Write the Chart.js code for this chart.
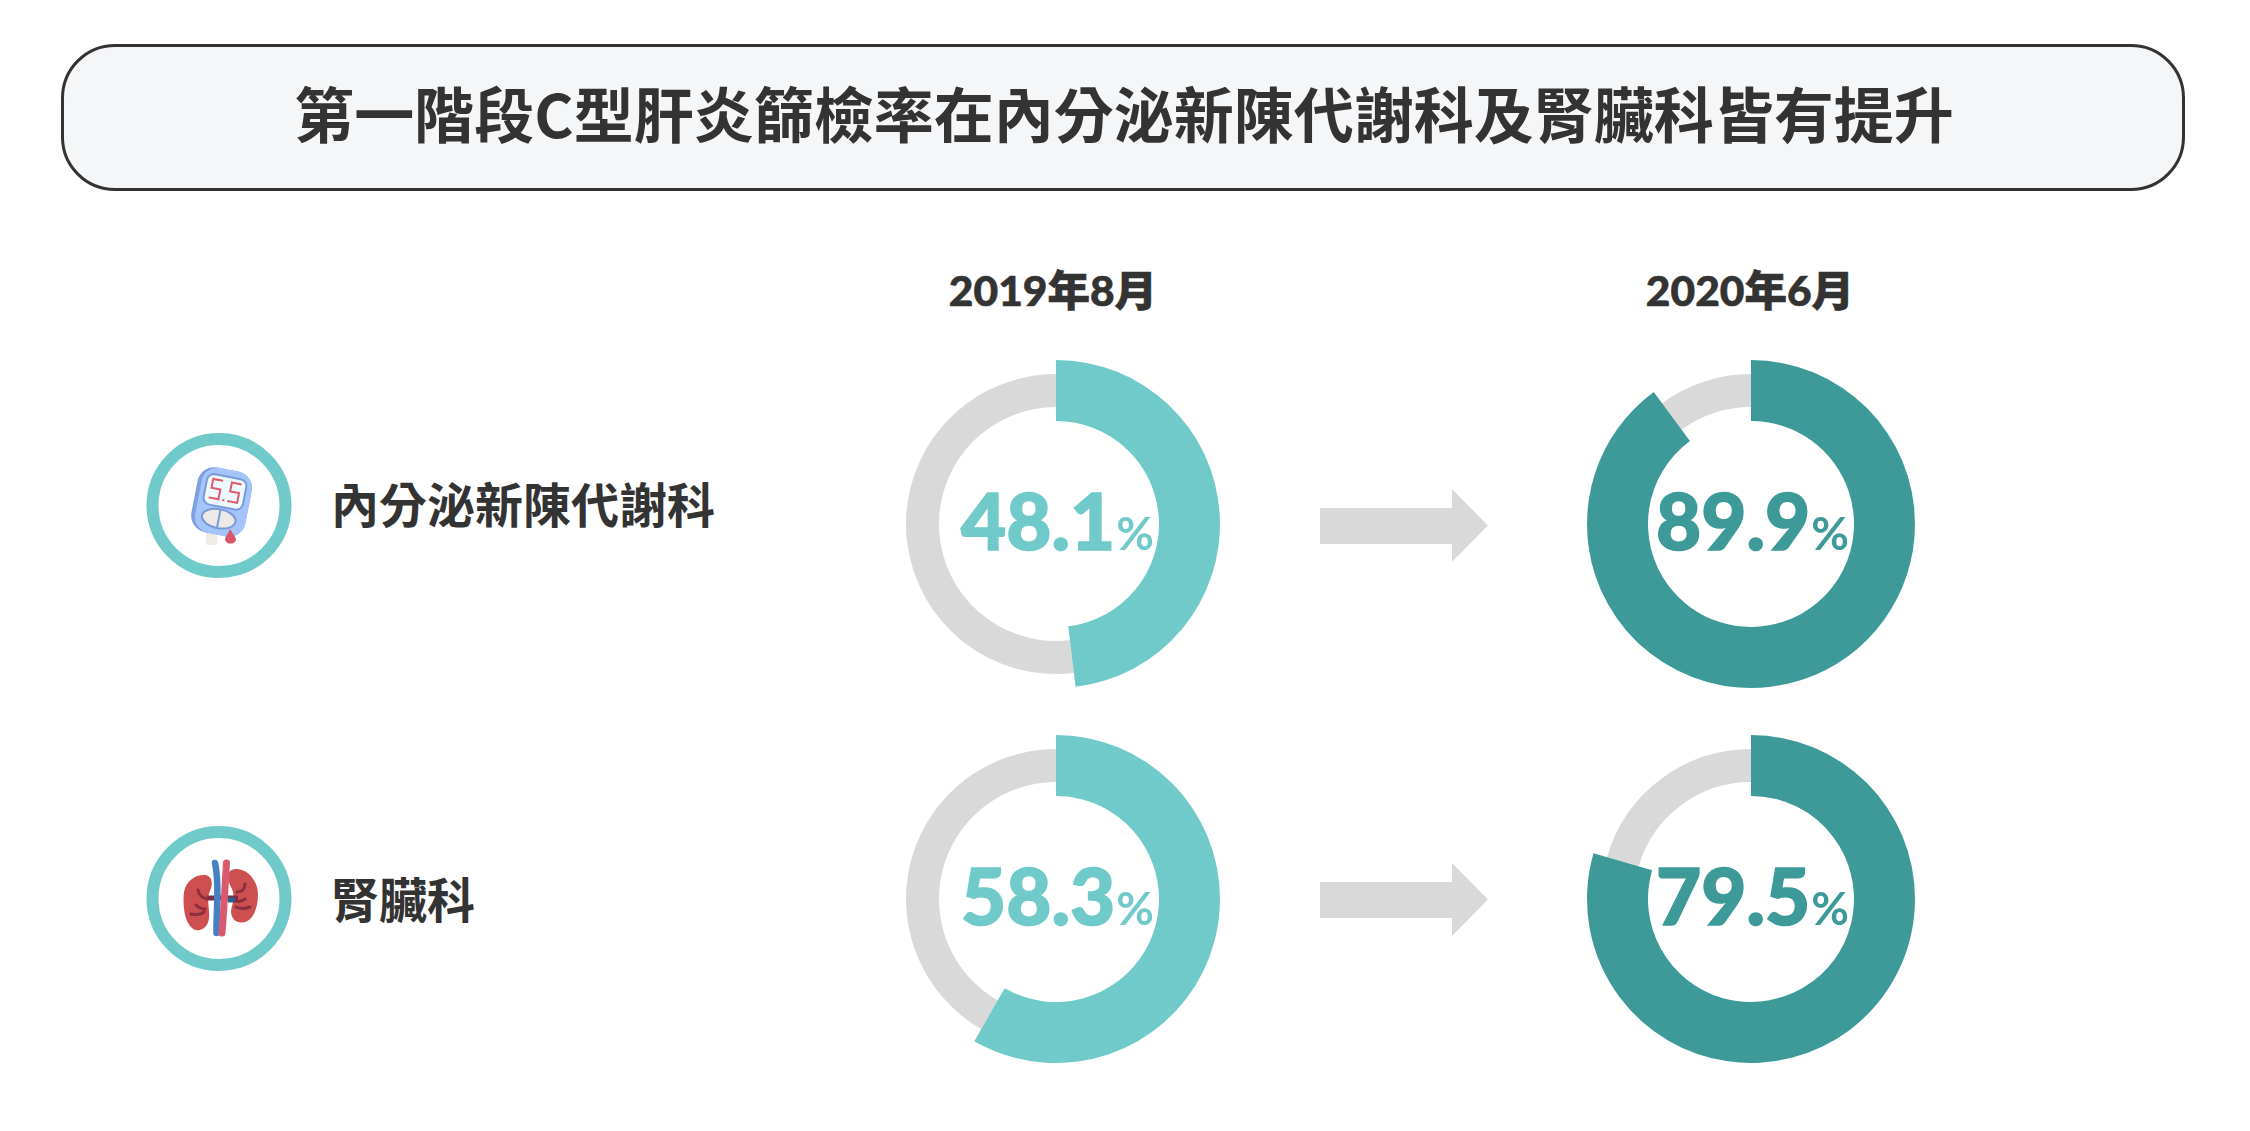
<!DOCTYPE html>
<html lang="zh-Hant">
<head>
<meta charset="utf-8">
<title>第一階段C型肝炎篩檢率</title>
<script src="https://cdn.jsdelivr.net/npm/chart.js@4"></script>
<style>
  html, body { margin: 0; padding: 0; background: #fff; }
  #page { position: relative; width: 2250px; height: 1131px; overflow: hidden; color: #333;
          font-family: "Lato", "Noto Sans CJK TC", sans-serif; }
  #titleBox { position: absolute; left: 61px; top: 44px; width: 2118px; height: 141px;
              border: 3px solid #333; border-radius: 54px; background: #f5f6f8;
              display: flex; align-items: center; justify-content: center; box-sizing: content-box;
              font: 700 60px/70px "Noto Sans CJK TC", sans-serif; }
  #titleBox b { font-weight: 700; position: relative; top: -6px; left: 1px; }
  .period { position: absolute; width: 400px; text-align: center; font-weight: 900; font-size: 42.5px; line-height: 50px;
            -webkit-text-stroke: 0.6px #333; }
  .rowLabel { position: absolute; font: 700 48px/60px "Noto Sans CJK TC", sans-serif; white-space: nowrap; }
  canvas { position: absolute; }
  .pct { position: absolute; width: 340px; text-align: center; font-weight: 900; font-size: 78px; line-height: 90px; white-space: nowrap;
         -webkit-text-stroke: 1.6px currentColor; }
  .pct span { font-size: 46px; font-weight: 700; -webkit-text-stroke: 0; margin-left: 1px; }
  svg { position: absolute; left: 0; top: 0; }
</style>
</head>
<body>
<div id="page">
  <div id="titleBox"><b>第一階段C型肝炎篩檢率在內分泌新陳代謝科及腎臟科皆有提升</b></div>
  <svg width="2250" height="1131">
    <!-- arrows -->
    <polygon points="1320,508 1452,508 1452,489 1488,525.5 1452,562 1452,544 1320,544" fill="#d9d9d9"/>
    <polygon points="1320,882 1452,882 1452,863 1488,899.5 1452,936 1452,918 1320,918" fill="#d9d9d9"/>
    <!-- icon rings -->
    <circle cx="219" cy="505.5" r="66.5" fill="none" stroke="#70cac9" stroke-width="12"/>
    <circle cx="219" cy="898.5" r="66.5" fill="none" stroke="#70cac9" stroke-width="12"/>
    <!-- glucose meter -->
    <rect x="206" y="530" width="11" height="15" rx="2" fill="#efebe7"/>
    <g transform="rotate(11 222 502) translate(222 502)">
      <rect x="-28" y="-33" width="55" height="66" rx="17" fill="#7f9fe0"/>
      <rect x="-24" y="-33" width="51" height="66" rx="16" fill="#a4c4fb"/>
      <rect x="-19" y="-26" width="40" height="31" rx="7" fill="#eef9fb" stroke="#7a9ad8" stroke-width="2"/>
      <g fill="none" stroke="#e0596c" stroke-width="2">
        <path d="M-3,-21 H-13 V-12 H-4 V-2 H-14"/>
        <path d="M16,-21 H6 V-12 H15 V-2 H5"/>
        <path d="M0,-2 H2"/>
        <ellipse cx="0" cy="17" rx="17" ry="9.5" fill="#ece9e6" stroke="#7a9ad8"/>
        <path d="M0,7.5 V26.5" stroke="#7a9ad8"/>
      </g>
    </g>
    <path d="M230,529 C233,534 236,537 236,540 A6,6 0 0 1 225,540 C225,537 228,534 230,529 Z" fill="#d9566a"/>
    <!-- kidneys -->
    <path d="M204,875 C213,875 213,885 210,891 C206,899 210,908 209,918 C208,930 196,934 190,926 C183,917 183,900 184,892 C186,881 195,875 204,875 Z" fill="#cd4f4f"/>
    <path d="M236,869 C226,869 227,880 231,887 C236,895 232,905 231,911 C231,924 245,926 252,917 C258,908 259,895 257,887 C254,877 246,869 236,869 Z" fill="#cd4f4f"/>
    <path d="M207,898 H238" stroke="#7d2a44" stroke-width="5" fill="none"/>
    <path d="M228,900 H235" stroke="#2a5f8f" stroke-width="5" fill="none"/>
    <path d="M198,890 C199,896 203,898 207,899 M196,905 C199,908 202,909 205,909 M191,914 C196,915 201,915 204,912 M245,884 C245,889 242,892 237,892 M245,899 C242,901 239,902 236,901 M250,907 C245,909 240,909 236,907" stroke="#8c2f3d" stroke-width="3" stroke-linecap="round" fill="none"/>
    <path d="M215,863 C220,885 216,910 216.5,933" stroke="#4480c4" stroke-width="6.5" stroke-linecap="round" fill="none"/>
    <path d="M226.5,863 C225,885 224,910 222,933" stroke="#d9596f" stroke-width="7" stroke-linecap="round" fill="none"/>
  </svg>
</div>
<script>
const categories = ['內分泌新陳代謝科', '腎臟科'];
const periods = ['2019年8月', '2020年6月'];
const rates2019 = [48.1, 58.3];
const rates2020 = [89.9, 79.5];
const total = 100;

const colors = ['#70cac9', '#3d9a99'];
const gray = '#d9d9d9';
const columnX = [1055.5, 1750.5];
const periodX = [1053, 1750];
const rowY = [523.5, 898.5];
const labelY = [502, 897];
const page = document.getElementById('page');

function addDiv(cls, left, top, text) {
  const d = document.createElement('div');
  d.className = cls;
  d.style.left = left + 'px';
  d.style.top = top + 'px';
  d.textContent = text;
  page.appendChild(d);
  return d;
}

function ring(cx, cy, values, bg, outer, inner) {
  const size = outer * 2 + 4;
  const c = document.createElement('canvas');
  c.width = size;
  c.height = size;
  c.style.left = (cx - size / 2) + 'px';
  c.style.top = (cy - size / 2) + 'px';
  page.appendChild(c);
  new Chart(c, {
    type: 'doughnut',
    data: {
      labels: ['篩檢率', '未篩檢'],
      datasets: [{ data: values, backgroundColor: bg, borderWidth: 0 }]
    },
    options: {
      responsive: false,
      animation: false,
      radius: outer,
      // the cutout is taken against the canvas half size, then scaled by the radius
      cutout: inner * (outer + 2) / outer,
      plugins: { legend: { display: false }, tooltip: { enabled: false } }
    }
  });
}

function donut(col, row, rate) {
  const cx = columnX[col], cy = rowY[row];
  const rest = +(total - rate).toFixed(1);
  // gray thin ring sits behind the thicker colored arc
  ring(cx, cy, [rate, rest], [gray, gray], 150, 117);
  ring(cx, cy, [rate, rest], [colors[col], 'transparent'], 164, 103);
  const p = addDiv('pct', cx - 170 + 2, cy - 45 - 4, rate.toFixed(1));
  p.style.color = colors[col];
  const s = document.createElement('span');
  s.textContent = '%';
  p.appendChild(s);
}

periods.forEach((t, i) => addDiv('period', periodX[i] - 200, 265, t));
categories.forEach((t, i) => addDiv('rowLabel', 331, labelY[i] - 30, t));
rates2019.forEach((v, i) => donut(0, i, v));
rates2020.forEach((v, i) => donut(1, i, v));
</script>
</body>
</html>
